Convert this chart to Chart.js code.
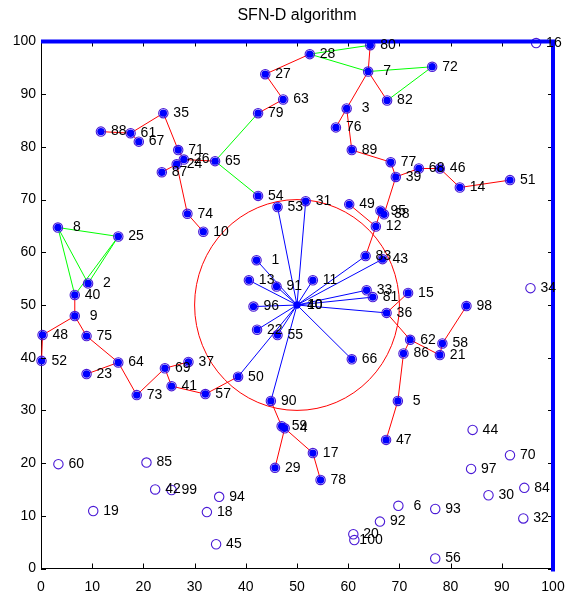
<!DOCTYPE html>
<html>
<head>
<meta charset="utf-8">
<script src="https://cdn.jsdelivr.net/npm/chart.js@4.4.1/dist/chart.umd.min.js"></script>
<style>
  html, body { margin: 0; padding: 0; background: #fff; }
  #wrap { width: 576px; height: 599px; }
</style>
</head>
<body>
<div id="wrap"><canvas id="c" width="576" height="599"></canvas></div>
<script>
// Sensor node coordinates, node i is at index i-1
const nodeX = [
  42.1, 9.2, 59.7, 47.6, 69.7, 69.8, 63.9, 3.3, 6.6, 31.7,
  53.1, 65.4, 40.6, 81.8, 71.7, 96.7, 53.1, 32.4, 10.2, 61.0,
  77.9, 42.2, 8.9, 26.5, 15.1, 27.9, 43.8, 52.5, 45.7, 87.4,
  51.7, 94.2, 63.6, 95.6, 23.9, 67.5, 28.8, 67.0, 69.3, 6.6,
  25.5, 22.3, 66.7, 84.3, 34.2, 77.9, 67.4, 0.3, 60.2, 38.5,
  91.6, 0.1, 46.2, 42.4, 46.2, 77.0, 32.1, 78.4, 47.0, 3.4,
  17.5, 72.1, 47.3, 15.1, 34.0, 60.7, 19.1, 73.8, 24.2, 91.6,
  26.8, 76.4, 18.7, 28.6, 8.9, 57.6, 68.3, 54.6, 42.4, 64.3,
  64.8, 67.6, 63.4, 94.4, 20.6, 70.8, 23.6, 11.7, 60.7, 44.9,
  46.0, 66.2, 77.0, 34.8, 66.3, 41.5, 84.0, 83.1, 25.5, 61.2
];
const nodeY = [
  58.5, 54.1, 87.3, 26.6, 31.8, 11.9, 94.3, 64.7, 47.9, 63.9,
  54.7, 64.9, 54.7, 72.3, 52.3, 99.7, 21.9, 10.7, 10.9, 6.5,
  40.5, 45.3, 36.9, 76.7, 63.0, 77.6, 93.8, 97.6, 19.1, 13.9,
  69.7, 9.5, 52.8, 53.2, 86.4, 48.5, 39.2, 67.2, 74.3, 51.9,
  34.6, 15.0, 58.7, 26.3, 4.6, 75.9, 24.4, 44.3, 69.1, 36.4,
  73.7, 39.4, 68.6, 70.7, 44.3, 1.9, 33.1, 42.7, 27.0, 19.8,
  82.6, 43.4, 89.0, 39.1, 77.3, 39.7, 81.0, 75.9, 38.0, 21.5,
  79.4, 95.2, 32.9, 67.3, 44.1, 83.7, 77.1, 16.8, 86.4, 99.3,
  51.5, 88.8, 59.3, 15.3, 20.1, 40.8, 75.2, 82.9, 79.4, 31.8,
  53.5, 8.9, 11.3, 13.6, 67.9, 49.7, 18.9, 49.8, 14.9, 5.4
];
// Nodes left out of the network (drawn as empty rings only)
const isolatedNodes = [6, 16, 18, 19, 20, 30, 32, 34, 42, 44, 45, 56, 60, 70, 84, 85, 92, 93, 94, 97, 99, 100];

// Sink at the field centre and its range
const sinkPos = [50, 50];
const sinkLabels = ['10', '40'];
const sinkRange = 20;

// Direct links to the sink
const sinkLinks = [53, 31, 1, 13, 91, 96, 22, 55, 11, 66, 50, 90, 83, 43, 33, 81, 36];

// Multi-hop tree links
const redLinks = [
  [88, 61], [61, 35], [61, 67], [35, 71], [71, 26], [26, 24], [24, 87], [24, 74], [74, 10], [26, 65],
  [79, 63], [63, 27], [27, 28], [80, 7], [7, 82], [7, 3], [3, 76], [3, 89], [89, 77], [77, 39],
  [39, 68], [68, 46], [46, 14], [14, 51], [39, 38], [38, 95], [95, 12], [49, 12], [12, 83],
  [36, 15], [36, 62], [62, 86], [62, 21], [21, 58], [58, 98], [86, 5], [5, 47],
  [90, 59], [59, 4], [4, 29], [4, 17], [17, 78],
  [50, 57], [57, 41], [41, 69], [69, 37], [69, 73], [73, 64], [64, 23], [64, 75], [75, 9], [9, 48], [48, 52], [9, 40]
];
// Cluster links
const greenLinks = [
  [65, 79], [65, 54], [28, 80], [28, 7], [7, 72], [72, 82],
  [8, 25], [8, 40], [8, 2], [25, 2], [25, 40]
];

const axisTicks = [0, 10, 20, 30, 40, 50, 60, 70, 80, 90, 100];

const FONT = '"Liberation Sans", Arial, Helvetica, sans-serif';
const RING = '#4a1ad6';
const DOT = '#0000ff';

const pt = id => ({ x: nodeX[id - 1], y: nodeY[id - 1] });
const allIds = nodeX.map((_, i) => i + 1);
const activeIds = allIds.filter(id => !isolatedNodes.includes(id));

const datasets = [];
// filled dots for nodes in the network (on top)
datasets.push({
  data: activeIds.map(pt).concat([{ x: sinkPos[0], y: sinkPos[1] }]),
  pointRadius: 3.7, pointBackgroundColor: DOT, pointBorderWidth: 0,
  showLine: false, clip: false, order: 0
});
// rings for every node
datasets.push({
  data: allIds.map(pt),
  pointRadius: 4.7, pointBackgroundColor: 'rgba(0,0,0,0)', pointBorderColor: RING, pointBorderWidth: 1.1,
  showLine: false, clip: false, order: 1
});
function linkSet(a, b, color) {
  return {
    data: [a, b], showLine: true, borderColor: color, borderWidth: 1,
    pointRadius: 0, fill: false, clip: false, order: 2
  };
}
sinkLinks.forEach(id => datasets.push(linkSet({ x: sinkPos[0], y: sinkPos[1] }, pt(id), '#0000ff')));
redLinks.forEach(([a, b]) => datasets.push(linkSet(pt(a), pt(b), '#ff0000')));
greenLinks.forEach(([a, b]) => datasets.push(linkSet(pt(a), pt(b), '#00ff00')));

const decor = {
  id: 'decor',
  beforeDatasetsDraw(chart) {
    const { ctx, scales: { x, y } } = chart;
    const cx = x.getPixelForValue(sinkPos[0]);
    const cy = y.getPixelForValue(sinkPos[1]);
    const rx = x.getPixelForValue(sinkPos[0] + sinkRange) - cx;
    const ry = cy - y.getPixelForValue(sinkPos[1] + sinkRange);
    ctx.save();
    ctx.strokeStyle = '#ff0000';
    ctx.lineWidth = 1;
    ctx.beginPath();
    ctx.ellipse(cx, cy, rx, ry, 0, 0, Math.PI * 2);
    ctx.stroke();
    ctx.restore();
  },
  afterDraw(chart) {
    const { ctx, chartArea: a, scales: { x, y } } = chart;
    ctx.save();
    // box + inward ticks
    ctx.strokeStyle = '#000';
    ctx.lineWidth = 1;
    ctx.beginPath();
    ctx.moveTo(a.left, a.top); ctx.lineTo(a.right, a.top);
    ctx.moveTo(a.right, a.top); ctx.lineTo(a.right, a.bottom);
    axisTicks.forEach(v => {
      const px = Math.round(x.getPixelForValue(v)) + 0.5;
      ctx.moveTo(px, a.bottom); ctx.lineTo(px, a.bottom - 5);
      ctx.moveTo(px, a.top); ctx.lineTo(px, a.top + 5);
      const py = Math.round(y.getPixelForValue(v)) + 0.5;
      ctx.moveTo(a.left, py); ctx.lineTo(a.left + 5, py);
      ctx.moveTo(a.right, py); ctx.lineTo(a.right - 5, py);
    });
    ctx.stroke();
    // heavy blue frame on top and right
    ctx.strokeStyle = '#0000ff';
    ctx.lineWidth = 4;
    ctx.beginPath();
    ctx.moveTo(a.left, a.top);
    ctx.lineTo(a.right, a.top);
    ctx.moveTo(a.right, a.top - 2);
    ctx.lineTo(a.right, a.bottom + 3);
    ctx.stroke();

    // node labels
    ctx.fillStyle = '#000';
    ctx.font = '14px ' + FONT;
    ctx.textBaseline = 'middle';
    ctx.textAlign = 'left';
    allIds.forEach(id => {
      const s = String(id);
      const px = x.getPixelForValue(nodeX[id - 1]);
      const py = y.getPixelForValue(nodeY[id - 1]);
      ctx.fillText(s, px + 20 - 5 * s.length, py);
    });
    const sx = x.getPixelForValue(sinkPos[0]);
    const sy = y.getPixelForValue(sinkPos[1]);
    sinkLabels.forEach(s => ctx.fillText(s, sx + 10, sy));
    ctx.restore();
  }
};

new Chart(document.getElementById('c'), {
  type: 'scatter',
  data: { datasets },
  options: {
    responsive: false,
    devicePixelRatio: 1,
    animation: false,
    events: [],
    layout: { padding: { left: 0, right: 23, top: 0, bottom: 0 } },
    plugins: {
      legend: { display: false },
      tooltip: { enabled: false },
      title: {
        display: true,
        fullSize: false,
        text: 'SFN-D algorithm',
        color: '#000',
        font: { family: FONT, size: 16, weight: 'normal' },
        padding: { top: 6, bottom: 16.3 }
      }
    },
    scales: {
      x: {
        type: 'linear', min: 0, max: 100, position: 'bottom',
        afterFit: s => { s.height = 30.5; },
        afterBuildTicks: s => { s.ticks = axisTicks.map(v => ({ value: v })); },
        grid: { display: false, drawTicks: false },
        border: { display: true, color: '#000', width: 1 },
        ticks: { color: '#000', font: { family: FONT, size: 14 }, padding: 10, maxRotation: 0, autoSkip: false }
      },
      y: {
        type: 'linear', min: 0, max: 100,
        afterFit: s => { s.width = 41; },
        afterBuildTicks: s => { s.ticks = axisTicks.map(v => ({ value: v })); },
        grid: { display: false, drawTicks: false },
        border: { display: true, color: '#000', width: 1 },
        ticks: { color: '#000', font: { family: FONT, size: 14 }, padding: 5, autoSkip: false }
      }
    }
  },
  plugins: [decor]
});
</script>
</body>
</html>
